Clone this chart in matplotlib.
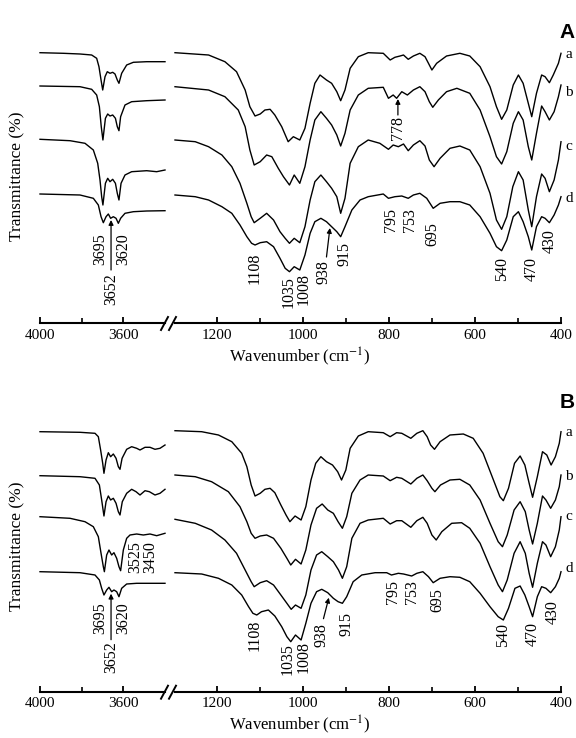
import numpy as np
import matplotlib
matplotlib.use("Agg")
import matplotlib.pyplot as plt

plt.rcParams['font.family'] = ['Liberation Serif', 'DejaVu Serif']
plt.rcParams['mathtext.fontset'] = 'stix'

W, H = 576, 738

# spectra: (wavenumber cm-1, relative transmittance), drawn shifted by a per-curve offset
# panel A, OH stretching region
A_a_oh = [(4000, 0.3), (3888, -0.3), (3808, -1), (3752, -2), (3728, -5.3), (3717, -13.7), (3707, -27), (3699, -37),
          (3688, -23.7), (3677, -18.7), (3664, -20.3), (3651, -19.3), (3640, -21), (3629, -27), (3621, -30.3),
          (3608, -20.3), (3584, -12), (3552, -9.3), (3488, -8.7), (3400, -8.7)]
A_b_oh = [(4000, 0.5), (3808, -0.2), (3752, -2.8), (3728, -8.5), (3715, -20.2), (3706, -40.2), (3698, -53.5),
          (3686, -31.8), (3675, -27.5), (3664, -29.5), (3651, -28.5), (3638, -31.8), (3629, -40.2), (3621, -44.2),
          (3613, -30.2), (3592, -18.5), (3560, -15.2), (3488, -14.2), (3400, -13.5)]
A_c_oh = [(4000, 0.7), (3856, -0.7), (3784, -3.3), (3744, -10), (3723, -23.3), (3712, -40), (3704, -56.7),
          (3698, -65), (3686, -43.3), (3675, -38.3), (3664, -41.7), (3651, -39.3), (3638, -43.3), (3629, -53.3),
          (3621, -60), (3611, -43.3), (3592, -35), (3560, -31.7), (3488, -30.7), (3440, -31.7), (3400, -30)]
A_d_oh = [(4000, 0.5), (3808, -0.5), (3744, -3.8), (3720, -10.5), (3707, -22.2), (3696, -28.2), (3683, -22.2),
          (3672, -19.5), (3661, -23.8), (3648, -22.2), (3635, -23.8), (3624, -28.8), (3613, -23.8), (3592, -18.8),
          (3552, -17.2), (3488, -16.5), (3400, -16.2)]

# panel A, 1300-400 region
A_a_fp = [(1297, 0.3), (1219, -2), (1181, -8.7), (1154, -18.7), (1134, -37), (1123, -53.7), (1111, -63), (1099, -61),
          (1088, -57), (1076, -56.3), (1065, -62), (1049, -73.7), (1034, -88.7), (1022, -83.7), (1007, -87),
          (995, -75.3), (983, -50.3), (972, -30.3), (960, -22), (945, -27), (933, -30.3), (921, -38.7), (912, -47.7),
          (902, -37), (890, -15.3), (871, -3.7), (848, 0.3), (813, -0.3), (797, -7), (786, -4.3), (774, -3),
          (766, -2), (755, -6.3), (743, -3), (728, -0.3), (716, -3.7), (708, -10.3), (700, -17), (689, -10.3),
          (666, -3), (635, -0.3), (612, -3), (588, -13.7), (565, -33.7), (550, -53.7), (538, -66.3), (526, -57),
          (511, -32), (499, -22), (488, -30.3), (476, -50.3), (468, -63.7), (457, -40.3), (445, -22), (437, -23.7),
          (427, -29.7), (418, -22), (406, -10.3), (400, -0.3)]
A_b_fp = [(1297, -0.2), (1219, -3.5), (1181, -10.2), (1150, -23.5), (1134, -40.2), (1123, -63.5), (1113, -78.5),
          (1099, -75.2), (1084, -68.5), (1072, -70.2), (1057, -81.8), (1045, -90.2), (1031, -98.5), (1020, -88.5),
          (1007, -96.8), (995, -80.2), (983, -53.5), (972, -33.5), (958, -25.2), (945, -31.8), (933, -38.5),
          (921, -48.5), (912, -59.5), (902, -46.8), (890, -23.5), (871, -8.5), (848, -1.8), (813, -0.8),
          (801, -11.8), (790, -8.5), (782, -11.8), (770, -5.2), (757, -8.5), (743, -3.5), (728, -0.2), (716, -5.2),
          (706, -15.2), (698, -20.8), (685, -13.5), (666, -5.2), (642, -1.8), (612, -6.8), (588, -23.5),
          (565, -50.2), (550, -70.2), (538, -77.5), (526, -65.2), (511, -36.8), (499, -25.2), (488, -33.5),
          (476, -60.2), (468, -73.5), (457, -46.8), (445, -19.5), (437, -25.2), (427, -33.5), (416, -25.2),
          (406, -10.2), (400, 1.5)]
A_c_fp = [(1297, 0), (1250, -1.7), (1219, -6.7), (1188, -15), (1165, -26.7), (1146, -43.3), (1130, -63.3),
          (1120, -76.7), (1113, -82.7), (1099, -78.3), (1084, -73.3), (1068, -80), (1053, -91.7), (1041, -98.3),
          (1031, -103.3), (1020, -98.3), (1007, -102.7), (995, -86.7), (983, -60), (972, -41.7), (958, -35),
          (945, -41.7), (933, -48.3), (921, -56.7), (912, -73.3), (902, -58.3), (890, -23.3), (871, -6.7), (848, 0),
          (821, -3.3), (801, -9.3), (790, -5), (778, -6.7), (766, -4), (755, -10.7), (743, -5), (728, -0.7),
          (716, -6), (706, -20), (695, -26.7), (681, -18.3), (658, -8.3), (635, -6), (612, -10), (588, -26.7),
          (565, -53.3), (550, -80), (538, -89.3), (526, -76.7), (512, -46.7), (499, -31.7), (488, -40), (476, -70),
          (468, -86.7), (457, -56.7), (445, -34), (437, -38.3), (427, -51.7), (416, -40), (406, -20), (400, -1.7)]
A_d_fp = [(1297, -0.5), (1250, -2.2), (1219, -5.5), (1188, -12.2), (1165, -18.8), (1146, -30.5), (1130, -42.2),
          (1119, -48.8), (1111, -50.5), (1099, -48.2), (1084, -47.2), (1068, -52.2), (1053, -63.8), (1041, -73.8),
          (1031, -77.2), (1020, -72.2), (1007, -75.5), (995, -60.5), (983, -38.8), (972, -27.2), (958, -23.8),
          (945, -27.2), (933, -32.2), (921, -37.2), (912, -42.2), (902, -32.2), (886, -15.5), (867, -5.5),
          (848, -2.2), (813, 0.5), (801, -3.8), (786, -2.2), (770, -1.5), (755, -3.8), (743, -0.5), (728, 1.2),
          (712, -3.8), (697, -13.8), (681, -8.8), (658, -7.2), (635, -7.2), (612, -10.5), (588, -22.2),
          (565, -38.8), (550, -52.2), (538, -56.2), (526, -45.5), (511, -22.2), (499, -17.2), (488, -27.2),
          (476, -42.2), (468, -55.5), (457, -32.2), (445, -22.2), (437, -23.8), (427, -28.2), (416, -20.5),
          (406, -10.5), (400, -2.2)]

# panel B, OH stretching region
B_a_oh = [(4000, -0.2), (3808, -0.8), (3736, -1.8), (3720, -5.2), (3709, -18.5), (3699, -31.8), (3693, -41.8),
          (3683, -28.5), (3672, -21.2), (3661, -25.2), (3648, -22.5), (3635, -26.8), (3624, -35.2), (3616, -37.8),
          (3606, -26.8), (3584, -17.8), (3560, -15.2), (3536, -16.8), (3520, -18.5), (3496, -15.8), (3472, -15.8),
          (3448, -17.8), (3424, -16.8), (3400, -13.5)]
B_b_oh = [(4000, -0.7), (3808, -1.7), (3736, -3.3), (3715, -10), (3704, -25), (3693, -41), (3683, -26.7),
          (3672, -21), (3661, -25), (3648, -23.3), (3635, -28.3), (3624, -36.7), (3616, -40), (3605, -26.7),
          (3584, -18.3), (3560, -14.3), (3539, -16.7), (3520, -20), (3496, -15.7), (3475, -16.7), (3448, -20),
          (3424, -18.3), (3400, -14.3)]
B_c_oh = [(4000, 0.3), (3856, -1.3), (3784, -4.7), (3744, -9.7), (3720, -19.7), (3707, -36.3), (3696, -49.7),
          (3691, -54.7), (3680, -38), (3669, -33), (3656, -38), (3645, -35.7), (3632, -41.3), (3621, -49.7),
          (3613, -53.7), (3600, -33), (3584, -21.3), (3568, -18), (3536, -17), (3504, -18), (3472, -17),
          (3440, -18.7), (3400, -16.3)]
B_d_oh = [(4000, 0.3), (3808, -0.7), (3736, -3), (3715, -8), (3704, -16.3), (3693, -23), (3680, -18), (3669, -15.3),
          (3656, -19.7), (3645, -18), (3632, -19.7), (3621, -24.7), (3608, -16.3), (3584, -12), (3536, -11.3),
          (3400, -11.3)]

# panel B, 1300-400 region
B_a_fp = [(1297, 0.8), (1235, -0.2), (1196, -3.5), (1165, -10.2), (1142, -21.8), (1130, -35.2), (1120, -53.5),
          (1111, -64.5), (1099, -61.8), (1088, -57.8), (1076, -56.8), (1065, -61.2), (1051, -73.5), (1039, -83.5),
          (1030, -90.2), (1018, -84.5), (1004, -88.5), (993, -75.2), (981, -48.5), (970, -31.8), (958, -25.2),
          (945, -30.2), (931, -33.5), (919, -40.2), (910, -48.5), (900, -38.5), (890, -16.8), (871, -4.5),
          (848, -0.2), (813, -1.2), (797, -5.2), (782, -1.2), (770, -1.8), (749, -6.8), (735, -1.8), (721, 0.8),
          (711, -5.2), (703, -13.5), (694, -17.8), (681, -10.2), (658, -3.5), (627, -2.5), (604, -6.8),
          (581, -21.8), (557, -48.5), (542, -65.2), (534, -69.2), (522, -56.8), (508, -31.8), (495, -24.5),
          (484, -33.5), (474, -51.8), (466, -65.8), (455, -45.2), (443, -20.2), (433, -23.5), (423, -33.5),
          (413, -25.2), (404, -11.8), (400, -0.2)]
B_b_fp = [(1297, 0), (1250, -1.7), (1212, -6.7), (1173, -16.7), (1146, -31.7), (1130, -46.7), (1120, -58.3),
          (1111, -63.3), (1099, -61), (1084, -60), (1068, -63.3), (1051, -73.3), (1037, -83.3), (1028, -90),
          (1017, -84.3), (1004, -89), (993, -75), (981, -50), (968, -33.3), (955, -29), (942, -35), (929, -38.3),
          (918, -46.7), (908, -53.3), (898, -41.7), (886, -18.3), (867, -5), (848, 0), (813, -1), (797, -5.7),
          (782, -2.3), (770, -3.3), (749, -9), (735, -3.3), (721, 0), (711, -5.7), (700, -13.3), (693, -16.7),
          (680, -10), (658, -5), (635, -4.3), (612, -10), (588, -25), (565, -48.3), (546, -66.7), (536, -71.7),
          (525, -60), (509, -35), (495, -26.7), (483, -36.7), (474, -55), (466, -69), (455, -48.3), (443, -21),
          (435, -25), (424, -33.3), (413, -25), (404, -11.7), (400, 0)]
B_c_fp = [(1297, -2.3), (1250, -6.3), (1212, -13), (1181, -23), (1154, -36.3), (1134, -53), (1120, -64.7),
          (1113, -69.7), (1099, -65.7), (1084, -63.7), (1068, -68), (1051, -78), (1037, -86.3), (1027, -92.3),
          (1017, -88), (1004, -91.3), (993, -78), (981, -53), (968, -38), (956, -34.7), (942, -39.7), (929, -44.7),
          (917, -53), (908, -61.3), (898, -49.7), (886, -21.3), (867, -6.3), (848, -3), (813, -1.3), (797, -7),
          (782, -3.7), (770, -3.7), (749, -10.3), (735, -3.7), (721, -0.3), (711, -6.3), (700, -18), (690, -23),
          (677, -14.7), (654, -6.3), (631, -5.7), (612, -11.3), (588, -26.3), (565, -49.7), (546, -68),
          (536, -74.7), (525, -63), (509, -36.3), (495, -24.7), (483, -36.3), (474, -56.3), (466, -70.3),
          (455, -46.3), (443, -24.7), (435, -28), (424, -39.7), (413, -29.7), (404, -13), (400, 0.3)]
B_d_fp = [(1297, -0.7), (1235, -2), (1196, -6.3), (1165, -13), (1142, -23), (1126, -34.7), (1116, -41.3),
          (1107, -43), (1096, -39.7), (1080, -38), (1065, -44), (1049, -54.7), (1037, -64.7), (1028, -69.7),
          (1017, -63), (1004, -68), (993, -51.3), (981, -31.3), (968, -19.7), (956, -17.3), (942, -20.7),
          (929, -26.3), (918, -29.7), (908, -31.3), (898, -24.7), (883, -9.7), (863, -3), (832, -0.7), (805, -0.7),
          (794, -3), (778, -1.3), (766, -2), (747, -4), (735, -1.3), (721, 0.3), (708, -4.7), (697, -10.7),
          (681, -6.3), (658, -4.7), (635, -5.3), (612, -9.7), (588, -21.3), (565, -34.7), (546, -44.7), (534, -48),
          (522, -36.3), (507, -16.3), (495, -14), (484, -23), (474, -34.7), (466, -44.7), (455, -24.7),
          (445, -14.7), (435, -16.3), (424, -20.7), (413, -14.7), (404, -6.3), (400, 0.3)]

curve_names = ['a', 'b', 'c', 'd']
A_offsets = [270, 236.5, 183, 128.5]
B_offsets = [260.2, 216.7, 174.7, 119.7]

# peak labels: (text, wavenumber position, top of text above axis)
A_fp_labels = [('1108', 1111, 70), ('1035', 1033, 47), ('1008', 998, 50), ('938', 951, 63), ('915', 902, 81),
               ('795', 795, 115), ('753', 751, 115), ('695', 698, 101), ('540', 537, 66), ('470', 467, 66),
               ('430', 426, 94), ('778', 779, 207)]
A_oh_labels = [('3695', 3712, 90), ('3620', 3602, 90), ('3652', 3659, 50)]
B_fp_labels = [('1108', 1111, 72), ('1035', 1035, 49), ('1008', 998, 51), ('938', 956, 69), ('915', 898, 80),
               ('795', 791, 112), ('753', 747, 112), ('695', 688, 104), ('540', 535, 69), ('470', 465, 70),
               ('430', 419, 92)]
B_oh_labels = [('3695', 3712, 89), ('3620', 3602, 89), ('3652', 3659, 50), ('3525', 3542, 151), ('3450', 3472, 151)]

# arrows: (tail wn, tail y, tip wn, tip y)
A_fp_arrows = [(945, 66, 937, 95), (779, 208, 779, 224)]
A_oh_arrows = [(3659, 53, 3659, 103)]
B_fp_arrows = [(952, 73, 939.5, 94)]
B_oh_arrows = [(3659, 52, 3659, 98)]

fig = plt.figure(figsize=(W / 100, H / 100), dpi=100)


def px_rect(x0, y0, x1, y1):
    return [x0 / W, 1 - y1 / H, (x1 - x0) / W, (y1 - y0) / H]


def style_axis(ax, major, minor):
    for s in ['top', 'left', 'right']:
        ax.spines[s].set_visible(False)
    ax.spines['bottom'].set_linewidth(1.5)
    ax.set_yticks([])
    ax.set_xticks(major)
    ax.set_xticks(minor, minor=True)
    ax.tick_params(axis='x', which='major', direction='in', length=4.5, width=1.3, labelsize=11, pad=4)
    ax.tick_params(axis='x', which='minor', direction='in', length=3.5, width=1.2)
    ax.patch.set_alpha(0)


def draw_panel(top, bottom, oh_curves, fp_curves, offsets, oh_labels, fp_labels, oh_arrows, fp_arrows):
    h = bottom - top
    axl = fig.add_axes(px_rect(40, top, 165, bottom))
    axr = fig.add_axes(px_rect(175, top, 561, bottom))
    axl.set_xlim(4000, 3400)
    axr.set_xlim(1297, 400)
    for ax in (axl, axr):
        ax.set_ylim(0, h)
    style_axis(axl, [4000, 3600], [3800])
    style_axis(axr, [1200, 1000, 800, 600, 400], [1100, 900, 700, 500])

    for pts_oh, pts_fp, off in zip(oh_curves, fp_curves, offsets):
        wn, t = zip(*pts_oh)
        axl.plot(wn, np.array(t) + off, color='black', lw=1.0, solid_joinstyle='round', clip_on=False)
        wn, t = zip(*pts_fp)
        axr.plot(wn, np.array(t) + off, color='black', lw=1.0, solid_joinstyle='round', clip_on=False)

    for ax, labels in ((axl, oh_labels), (axr, fp_labels)):
        for txt, x, y in labels:
            ax.text(x, y, txt, rotation=90, ha='center', va='top', fontsize=11.5, clip_on=False)
    for ax, arrows in ((axl, oh_arrows), (axr, fp_arrows)):
        for x0, y0, x1, y1 in arrows:
            ax.annotate('', xy=(x1, y1), xytext=(x0, y0),
                        arrowprops=dict(arrowstyle='-|>', color='black', lw=0.9, mutation_scale=7,
                                        shrinkA=0, shrinkB=0))
    return axl, axr


draw_panel(30, 323, [A_a_oh, A_b_oh, A_c_oh, A_d_oh], [A_a_fp, A_b_fp, A_c_fp, A_d_fp], A_offsets,
           A_oh_labels, A_fp_labels, A_oh_arrows, A_fp_arrows)
draw_panel(400, 691.7, [B_a_oh, B_b_oh, B_c_oh, B_d_oh], [B_a_fp, B_b_fp, B_c_fp, B_d_fp], B_offsets,
           B_oh_labels, B_fp_labels, B_oh_arrows, B_fp_arrows)

# overlay in pixel coordinates for figure-level text and axis breaks
ov = fig.add_axes([0, 0, 1, 1])
ov.set_xlim(0, W)
ov.set_ylim(H, 0)
ov.axis('off')
ov.patch.set_alpha(0)

for axis_y, ylab_y, xlab_y, panel, panel_y, letter_ys in (
        (323, 176, 357, 'A', 33, [55, 93, 147, 198]),
        (691.7, 546, 725, 'B', 403, [433, 477, 517, 568])):
    ov.plot([161, 168], [axis_y + 7, axis_y - 6], color='black', lw=1.4)
    ov.plot([169, 176], [axis_y + 7, axis_y - 6], color='black', lw=1.4)
    ov.text(17, ylab_y, 'Transmittance (%)', rotation=90, ha='center', va='center', fontsize=12.5)
    ov.text(300, xlab_y, 'Wavenumber (cm$^{-1}$)', ha='center', va='center', fontsize=12)
    ov.text(567, panel_y, panel, ha='center', va='center', fontsize=15, fontweight='bold',
            family=['Liberation Sans', 'DejaVu Sans'])
    for name, ly in zip(curve_names, letter_ys):
        ov.text(565, ly, name, ha='left', va='center', fontsize=11)

fig.savefig('out.png', dpi=100)
